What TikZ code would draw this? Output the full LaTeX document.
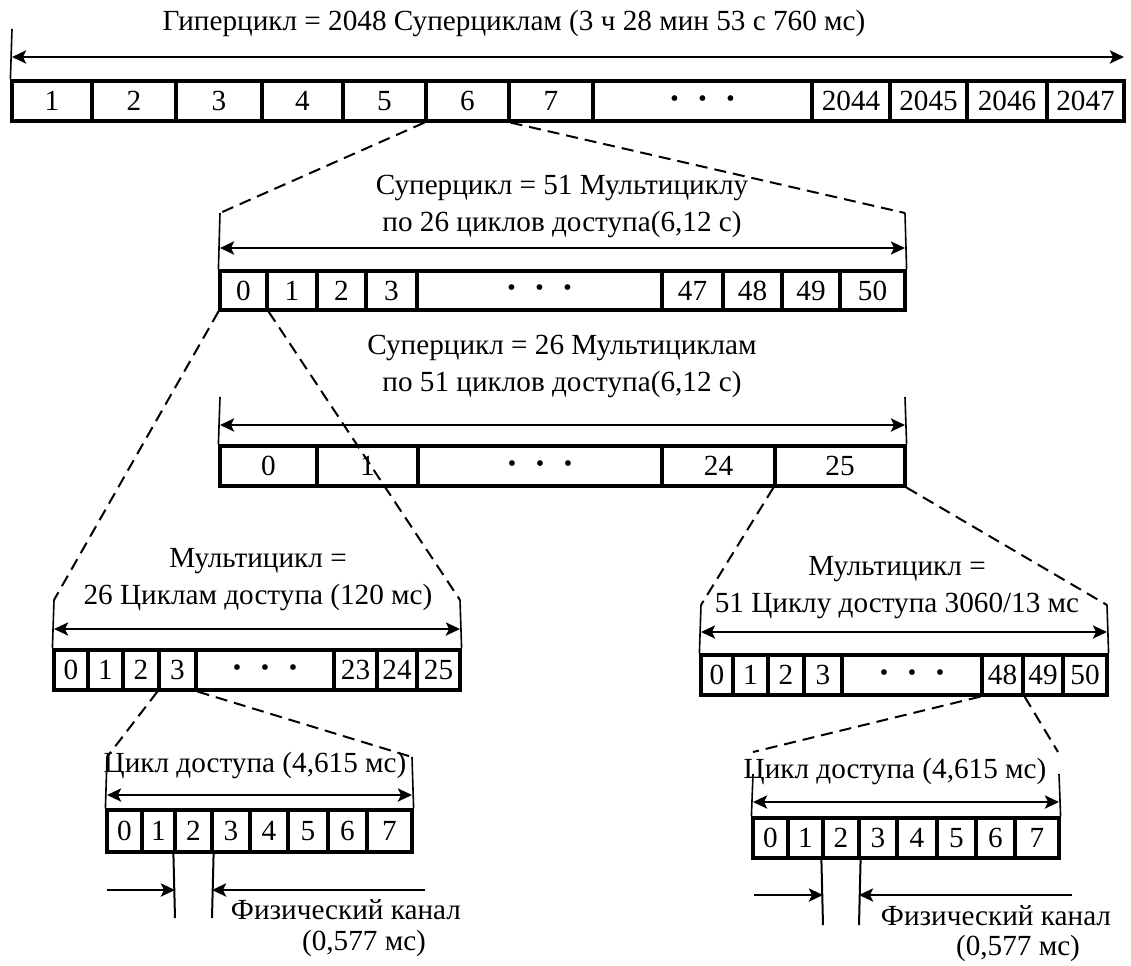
\documentclass[tikz,border=0pt]{standalone}
\usepackage{fontspec}
\setmainfont{Liberation Serif}
\usetikzlibrary{arrows.meta}
\newcommand{\onedot}{\makebox[14pt]{\raisebox{-1.2pt}{\fontsize{12}{12}\selectfont\textbullet}}}
\newcommand{\tridot}{\onedot\onedot\onedot}

\begin{document}
\begin{tikzpicture}[x=0.5pt,y=-0.5pt,
  cell/.style={draw,line width=1.6pt,inner sep=0pt,font=\fontsize{14.6}{16}\selectfont},
  lbl/.style={align=center,inner sep=0pt,font=\fontsize{14.6}{18.5}\selectfont},
  dim/.style={{Stealth[length=7pt,width=6.5pt,inset=1.5pt]}-{Stealth[length=7pt,width=6.5pt,inset=1.5pt]},line width=1.3pt},
  half/.style={-{Stealth[length=7pt,width=6.5pt,inset=1.5pt]},line width=1.3pt},
  tick/.style={line width=0.8pt},
  zoomline/.style={dash pattern=on 6pt off 3.5pt,line width=1pt}]
\useasboundingbox (0,0) rectangle (1131,965);

\foreach \xa/\xb/\lab [count=\i] in {12/92/1,92/176/2,176/262/3,262/343/4,343/426/5,426/509/6,509/593/7,593/812/\tridot,812/890/2044,890/967/2045,967/1047/2046,1047/1124/2047}
  \node[cell,minimum width={(\xb-\xa)*0.5pt},minimum height=20pt] (A\i) at ({(\xa+\xb)/2},101) {\lab};
\foreach \xa/\xb/\lab [count=\i] in {220/267/0,267/317/1,317/366/2,366/417/3,417/662/\tridot,662/723/47,723/782/48,782/840/49,840/905/50}
  \node[cell,minimum width={(\xb-\xa)*0.5pt},minimum height=19.5pt] (B\i) at ({(\xa+\xb)/2},290.5) {\lab};
\foreach \xa/\xb/\lab [count=\i] in {220/317/0,317/418/1,418/662/\tridot,662/775/24,775/905/25}
  \node[cell,minimum width={(\xb-\xa)*0.5pt},minimum height=20pt] (C\i) at ({(\xa+\xb)/2},466) {\lab};
\foreach \xa/\xb/\lab [count=\i] in {54/88/0,88/123/1,123/159/2,159/196/3,196/334/\tridot,334/377/23,377/417/24,417/460/25}
  \node[cell,minimum width={(\xb-\xa)*0.5pt},minimum height=20pt] (L\i) at ({(\xa+\xb)/2},670) {\lab};
\foreach \xa/\xb/\lab [count=\i] in {701/733/0,733/768/1,768/804/2,804/842/3,842/982/\tridot,982/1023/48,1023/1063/49,1063/1107/50}
  \node[cell,minimum width={(\xb-\xa)*0.5pt},minimum height=20pt] (R\i) at ({(\xa+\xb)/2},675) {\lab};
\foreach \xa/\xb/\lab [count=\i] in {107/142/0,142/175/1,175/212/2,212/250/3,250/288/4,288/328/5,328/367/6,367/412/7}
  \node[cell,minimum width={(\xb-\xa)*0.5pt},minimum height=21pt] (P\i) at ({(\xa+\xb)/2},831) {\lab};
\foreach \xa/\xb/\lab [count=\i] in {753/788/0,788/823/1,823/859/2,859/897/3,897/937/4,937/976/5,976/1015/6,1015/1059/7}
  \node[cell,minimum width={(\xb-\xa)*0.5pt},minimum height=20pt] (Q\i) at ({(\xa+\xb)/2},838) {\lab};

\node[lbl] (tA) at (514,24) {Гиперцикл = 2048 Суперциклам (3 ч 28 мин 53 с 760 мс)};
\node[lbl] (tB) at (562,206) {Суперцикл = 51 Мультициклу\\по 26 циклов доступа(6,12 с)};
\node[lbl] (tC) at (562,366) {Суперцикл = 26 Мультициклам\\по 51 циклов доступа(6,12 с)};
\node[lbl] (tL) at (258,580) {Мультицикл =\\26 Циклам доступа (120 мс)};
\node[lbl] (tR) at (897,588) {Мультицикл =\\51 Циклу доступа 3060/13 мс};
\node[lbl] (tP) at (255,766) {Цикл доступа (4,615 мс)};
\node[lbl] (tQ) at (895,772) {Цикл доступа (4,615 мс)};
\node[lbl] (fP) at (346,910) {Физический канал}; \node[lbl] (gP) at (364,943) {(0,577 мс)};
\node[lbl] (fQ) at (996,916) {Физический канал}; \node[lbl] (gQ) at (1018,948) {(0,577 мс)};

\coordinate (AL) at (12,29); \coordinate (Aa) at (12,57); \coordinate (Ab) at (1124,57);
\coordinate (BL) at (220,213); \coordinate (BR) at (905,213); \coordinate (Ba) at (220,248); \coordinate (Bb) at (905,248);
\coordinate (CL) at (220,397); \coordinate (CR) at (905,397); \coordinate (Ca) at (220,425); \coordinate (Cb) at (905,425);
\coordinate (LL) at (54,600); \coordinate (LR) at (460,600); \coordinate (La) at (54,629); \coordinate (Lb) at (460,629);
\coordinate (RL) at (701,605); \coordinate (RR) at (1107,605); \coordinate (Ra) at (701,632); \coordinate (Rb) at (1107,632);
\coordinate (PL) at (107,757); \coordinate (PR) at (412,757); \coordinate (Pa) at (107,795); \coordinate (Pb) at (412,795);
\coordinate (QL) at (753,774); \coordinate (QR) at (1059,774); \coordinate (Qa) at (753,802); \coordinate (Qb) at (1059,802);
\coordinate (QL2) at (753,752); \coordinate (QR2) at (1058,752);

\draw[tick] (AL)--(A1.north west);
\draw[tick] (BL)--(B1.north west); \draw[tick] (BR)--(B9.north east);
\draw[tick] (CL)--(C1.north west); \draw[tick] (CR)--(C5.north east);
\draw[tick] (LL)--(L1.north west); \draw[tick] (LR)--(L8.north east);
\draw[tick] (RL)--(R1.north west); \draw[tick] (RR)--(R8.north east);
\draw[tick] (PL)--(P1.north west); \draw[tick] (PR)--(P8.north east);
\draw[tick] (QL)--(Q1.north west); \draw[tick] (QR)--(Q8.north east);
\draw[dim] (Aa)--(Ab); \draw[dim] (Ba)--(Bb); \draw[dim] (Ca)--(Cb); \draw[dim] (La)--(Lb);
\draw[dim] (Ra)--(Rb); \draw[dim] (Pa)--(Pb); \draw[dim] (Qa)--(Qb);

\draw[zoomline] (A6.south west)--(BL); \draw[zoomline] (A6.south east)--(BR);
\draw[zoomline] (B1.south west)--(LL); \draw[zoomline] (B1.south east)--(LR);
\draw[zoomline] (C5.south west)--(RL); \draw[zoomline] (C5.south east)--(RR);
\draw[zoomline] (L4.south west)--(PL); \draw[zoomline] (L4.south east)--(PR);
\draw[zoomline] (R6.south west)--(QL2); \draw[zoomline] (R6.south east)--(QR2);

\coordinate (P3a) at (175,918); \coordinate (P3b) at (212,918); \coordinate (PxL) at (107,890); \coordinate (PxR) at (425,890);
\draw[line width=1pt] (P3.south west)--(P3a); \draw[line width=1pt] (P3.south east)--(P3b);
\draw[half] (PxL)--(P3a|-PxL); \draw[half] (PxR)--(P3b|-PxR);
\coordinate (Q3a) at (823,925); \coordinate (Q3b) at (859,925); \coordinate (QxL) at (754,895); \coordinate (QxR) at (1072,895);
\draw[line width=1pt] (Q3.south west)--(Q3a); \draw[line width=1pt] (Q3.south east)--(Q3b);
\draw[half] (QxL)--(Q3a|-QxL); \draw[half] (QxR)--(Q3b|-QxR);
\end{tikzpicture}
\end{document}
